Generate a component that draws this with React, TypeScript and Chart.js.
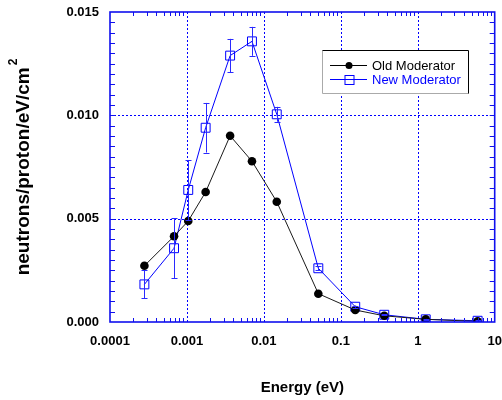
import React, { useEffect, useRef } from 'react';
import { Chart, registerables } from 'chart.js';

Chart.register(...registerables);

// ---- data ----
const energy = [0.00028, 0.00068, 0.00104, 0.00175, 0.00364, 0.007, 0.0147, 0.051, 0.154, 0.367, 1.27, 6.0];
const oldModerator = [0.00272, 0.00415, 0.00489, 0.00629, 0.00901, 0.00778, 0.00582, 0.00137, 0.00058, 0.0003, 0.00013, 0.00003];
const newModerator = [0.00182, 0.00357, 0.00639, 0.0094, 0.01289, 0.01358, 0.01005, 0.0026, 0.00074, 0.00035, 0.00013, 0.00006];
const newError = [0.00068, 0.00144, 0.00145, 0.0012, 0.00081, 0.0007, 0.00036, 0.0001, 0.00005, 0.00003, 0.00002, 0.00002];
const seriesNames = ['Old Moderator', 'New Moderator'];
const xTickValues = [0.0001, 0.001, 0.01, 0.1, 1, 10];
const xTickLabels = ['0.0001', '0.001', '0.01', '0.1', '1', '10'];
const yTickValues = [0, 0.005, 0.01, 0.015];
const yTickLabels = ['0.000', '0.005', '0.010', '0.015'];
const yMinorStep = 0.0005;
const xTitle = 'Energy (eV)';
const yTitleMain = 'neutrons/proton/eV/cm';
const yTitleSup = '2';

const FONT = '"Liberation Sans", Arial, Helvetica, sans-serif';
const BLUE = '#0000ff';
const AXIS_BLUE = '#1010ee';

const framePlugin = {
  id: 'framePlugin',
  beforeDatasetsDraw(chart: any) {
    const { ctx, chartArea: a, scales } = chart;
    const xs = scales.x;
    const ys = scales.y;
    ctx.save();
    ctx.strokeStyle = '#0000ff';
    ctx.lineWidth = 1;
    ctx.setLineDash([2, 2]);
    for (const v of xTickValues) {
      const px = Math.round(xs.getPixelForValue(v)) + 0.5;
      if (px <= a.left + 2 || px >= a.right - 2) continue;
      ctx.beginPath();
      ctx.moveTo(px, a.top);
      ctx.lineTo(px, a.bottom);
      ctx.stroke();
    }
    for (const v of yTickValues) {
      const py = Math.round(ys.getPixelForValue(v)) + 0.5;
      if (py <= a.top + 2 || py >= a.bottom - 2) continue;
      ctx.beginPath();
      ctx.moveTo(a.left, py);
      ctx.lineTo(a.right, py);
      ctx.stroke();
    }
    ctx.restore();
  },
  afterDatasetsDraw(chart: any) {
    const { ctx, chartArea: a, scales } = chart;
    const xs = scales.x;
    const ys = scales.y;
    ctx.save();
    // error bars for new moderator
    ctx.strokeStyle = '#2a2aff';
    ctx.lineWidth = 1;
    for (let i = 0; i < energy.length; i++) {
      const px = Math.round(xs.getPixelForValue(energy[i])) + 0.5;
      const yTop = ys.getPixelForValue(newModerator[i] + newError[i]);
      const yBot = ys.getPixelForValue(Math.max(0, newModerator[i] - newError[i]));
      ctx.beginPath();
      ctx.moveTo(px, yTop);
      ctx.lineTo(px, yBot);
      ctx.moveTo(px - 3, Math.round(yTop) + 0.5);
      ctx.lineTo(px + 3, Math.round(yTop) + 0.5);
      ctx.moveTo(px - 3, Math.round(yBot) + 0.5);
      ctx.lineTo(px + 3, Math.round(yBot) + 0.5);
      ctx.stroke();
    }
    // inward ticks
    ctx.strokeStyle = AXIS_BLUE;
    ctx.lineWidth = 1;
    const nMinor = Math.round((ys.max - ys.min) / yMinorStep);
    for (let i = 1; i < nMinor; i++) {
      const py = Math.round(ys.getPixelForValue(ys.min + i * yMinorStep)) + 0.5;
      ctx.beginPath();
      ctx.moveTo(a.left, py);
      ctx.lineTo(a.left + 5, py);
      ctx.moveTo(a.right, py);
      ctx.lineTo(a.right - 5, py);
      ctx.stroke();
    }
    for (let d = 0; d < xTickValues.length - 1; d++) {
      for (let k = 2; k <= 9; k++) {
        const px = Math.round(xs.getPixelForValue(xTickValues[d] * k)) + 0.5;
        ctx.beginPath();
        ctx.moveTo(px, a.bottom);
        ctx.lineTo(px, a.bottom - 4);
        ctx.moveTo(px, a.top);
        ctx.lineTo(px, a.top + 4);
        ctx.stroke();
      }
    }
    // frame
    ctx.lineWidth = 1.6;
    ctx.strokeStyle = AXIS_BLUE;
    ctx.strokeRect(a.left, a.top, a.right - a.left, a.bottom - a.top);
    ctx.restore();
  },
  afterDraw(chart: any) {
    const { ctx, chartArea: a } = chart;
    ctx.save();
    // y title with superscript
    ctx.translate(28.5, (a.top + a.bottom) / 2);
    ctx.rotate(-Math.PI / 2);
    ctx.fillStyle = '#000';
    ctx.textBaseline = 'alphabetic';
    ctx.textAlign = 'left';
    ctx.font = `bold 19px ${FONT}`;
    const w1 = ctx.measureText(yTitleMain).width;
    ctx.font = `bold 12px ${FONT}`;
    const w2 = ctx.measureText(yTitleSup).width;
    const total = w1 + 2 + w2;
    ctx.font = `bold 19px ${FONT}`;
    ctx.fillText(yTitleMain, -total / 2, 0);
    ctx.font = `bold 12px ${FONT}`;
    ctx.fillText(yTitleSup, -total / 2 + w1 + 2, -12);
    ctx.restore();

    // legend
    ctx.save();
    const bx = 322.5, by = 50.5, bw = 146, bh = 43;
    ctx.fillStyle = '#fff';
    ctx.fillRect(bx, by, bw, bh);
    ctx.lineWidth = 1;
    ctx.strokeStyle = '#aaaaaa';
    ctx.beginPath();
    ctx.moveTo(bx, by);
    ctx.lineTo(bx, by + bh);
    ctx.lineTo(bx + bw, by + bh);
    ctx.stroke();
    ctx.strokeStyle = '#000';
    ctx.beginPath();
    ctx.moveTo(bx, by);
    ctx.lineTo(bx + bw, by);
    ctx.lineTo(bx + bw, by + bh);
    ctx.stroke();
    const rows = [
      { y: 65.5, color: '#000', text: seriesNames[0], marker: 'circle' },
      { y: 79.5, color: BLUE, text: seriesNames[1], marker: 'rect' },
    ];
    ctx.font = `13px ${FONT}`;
    ctx.textBaseline = 'middle';
    ctx.textAlign = 'left';
    for (const r of rows) {
      ctx.strokeStyle = r.color;
      ctx.lineWidth = 1;
      ctx.beginPath();
      ctx.moveTo(330, r.y);
      ctx.lineTo(367, r.y);
      ctx.stroke();
      if (r.marker === 'circle') {
        ctx.fillStyle = r.color;
        ctx.beginPath();
        ctx.arc(349, r.y, 3.5, 0, Math.PI * 2);
        ctx.fill();
      } else {
        ctx.strokeRect(345, r.y - 4, 9, 9);
      }
      ctx.fillStyle = r.color;
      ctx.fillText(r.text, 372, r.y + 0.5);
    }
    ctx.restore();
  },
};

export default function App() {
  const canvasRef = useRef<HTMLCanvasElement | null>(null);

  useEffect(() => {
    if (!canvasRef.current) return;
    const chart = new Chart(canvasRef.current, {
      type: 'line',
      data: {
        datasets: [
          {
            label: seriesNames[0],
            data: energy.map((x, i) => ({ x, y: oldModerator[i] })),
            borderColor: '#1a1a1a',
            borderWidth: 1,
            pointStyle: 'circle',
            pointRadius: 4.3,
            pointBackgroundColor: '#000',
            pointBorderColor: '#000',
            pointBorderWidth: 0,
            tension: 0,
          },
          {
            label: seriesNames[1],
            data: energy.map((x, i) => ({ x, y: newModerator[i] })),
            borderColor: BLUE,
            borderWidth: 1,
            pointStyle: 'rect',
            pointRadius: 6.3,
            pointBackgroundColor: 'rgba(0,0,0,0)',
            pointBorderColor: BLUE,
            pointBorderWidth: 1,
            tension: 0,
          },
        ],
      },
      options: {
        responsive: true,
        maintainAspectRatio: false,
        animation: false,
        layout: { padding: { left: 0, top: 12, right: 4, bottom: 0 } },
        plugins: {
          legend: { display: false },
          tooltip: { enabled: false },
        },
        scales: {
          x: {
            type: 'logarithmic',
            position: 'bottom',
            min: 0.0001,
            max: 10,
            grid: { display: false, drawTicks: false },
            border: { display: false },
            afterBuildTicks: (s: any) => {
              s.ticks = xTickValues.map((v) => ({ value: v }));
            },
            afterFit: (s: any) => {
              s.height = 78;
              s.paddingLeft = 0;
              s.paddingRight = 0;
            },
            ticks: {
              autoSkip: false,
              maxRotation: 0,
              padding: 12,
              color: '#000',
              font: { family: FONT, size: 13, weight: 'bold' },
              callback: (_v: any, i: number) => xTickLabels[i],
            },
            title: {
              display: true,
              text: xTitle,
              color: '#000',
              font: { family: FONT, size: 15, weight: 'bold' },
              padding: { top: 0, bottom: 3 },
            },
          },
          y: {
            type: 'linear',
            min: 0,
            max: 0.015,
            grid: { display: false, drawTicks: false },
            border: { display: false },
            afterBuildTicks: (s: any) => {
              s.ticks = yTickValues.map((v) => ({ value: v }));
            },
            afterFit: (s: any) => {
              s.width = 110;
              s.paddingTop = 0;
              s.paddingBottom = 0;
            },
            ticks: {
              autoSkip: false,
              padding: 11,
              color: '#000',
              font: { family: FONT, size: 13, weight: 'bold' },
              callback: (_v: any, i: number) => yTickLabels[i],
            },
          },
        },
      } as any,
      plugins: [framePlugin],
    });
    return () => chart.destroy();
  }, []);

  return (
    <div style={{ position: 'absolute', left: 0, top: 0, width: 502, height: 400, background: '#fff' }}>
      <canvas ref={canvasRef} />
    </div>
  );
}
